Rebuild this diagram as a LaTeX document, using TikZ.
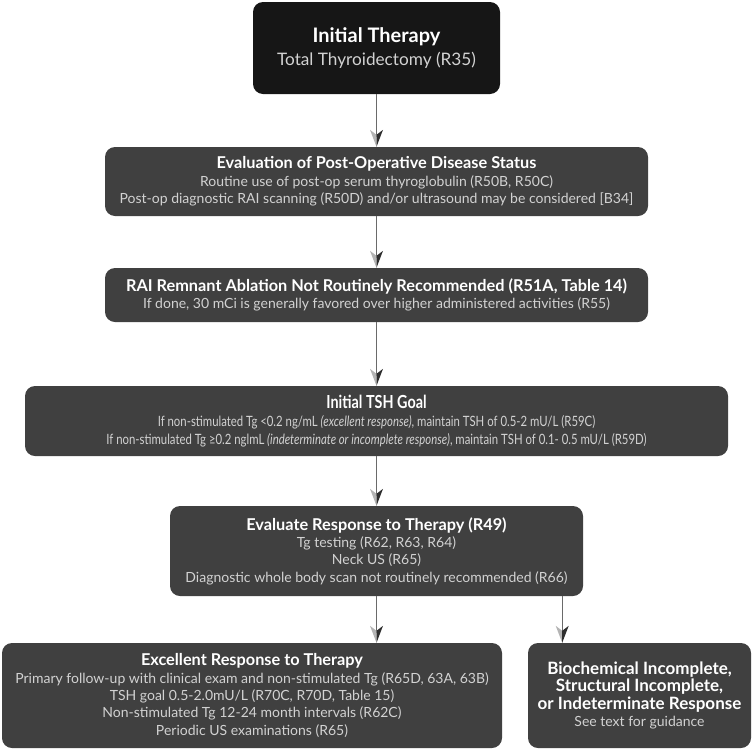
\documentclass[tikz,border=0pt]{standalone}
\usepackage{fontspec}
\setmainfont{Lato}
\newfontfamily\condfont{Lato}[FakeStretch=0.80]
\usetikzlibrary{calc}
\definecolor{boxgray}{HTML}{404040}
\definecolor{boxblack}{HTML}{161616}
\definecolor{bodytxt}{HTML}{D2D2D2}
\definecolor{linegray}{HTML}{6A6A6A}
\definecolor{tiplight}{HTML}{B4B4B4}
\definecolor{tipdark}{HTML}{2E2E2E}
\newcommand\ttl[1]{{\color{white}\bfseries\fontsize{16.3}{18}\selectfont #1}}
\newcommand\ttlb[1]{{\color{white}\bfseries\fontsize{17}{19}\selectfont #1}}
\newcommand\arrowtip[1]{%
  \fill[tiplight] (#1) -- ++(-6.5,-17) -- ++(6.5,5) -- cycle;
  \fill[tipdark] (#1) -- ++(6.5,-17) -- ++(-6.5,5) -- cycle;}
\begin{document}
\begin{tikzpicture}[x=1pt,y=-1pt,
  box/.style={rounded corners=10pt, fill=boxgray, align=center, inner sep=0pt,
    text=bodytxt, font=\fontsize{14}{17.4}\selectfont},
  conn/.style={draw=linegray, line width=1.3pt}]
\useasboundingbox (0,0) rectangle (752,750);
\node[box, fill=boxblack, minimum width=247pt, minimum height=92pt,
  font=\fontsize{17.2}{23}\selectfont, text=bodytxt] (b1) at (376.5,48)
  {{\color{white}\bfseries\fontsize{20}{23}\selectfont Initial Therapy}\\Total Thyroidectomy (R35)};
\node[box, minimum width=543pt, minimum height=69pt] (b2) at (376.5,181.5)
  {\ttl{Evaluation of Post-Operative Disease Status}\\
   Routine use of post-op serum thyroglobulin (R50B, R50C)\\
   Post-op diagnostic RAI scanning (R50D) and/or ultrasound may be considered [B34]};
\node[box, minimum width=543pt, minimum height=54pt] (b3) at (376.5,295)
  {\ttl{RAI Remnant Ablation Not Routinely Recommended (R51A, Table 14)}\\
   If done, 30 mCi is generally favored over higher administered activities (R55)};
\node[box, minimum width=703pt, minimum height=70pt,
  font=\condfont\fontsize{14.2}{17.8}\selectfont] (b4) at (376.5,421)
  {{\color{white}\bfseries\fontsize{18}{18}\selectfont Initial TSH Goal}\\
   If non-stimulated Tg <0.2 ng/mL \textit{(excellent response)}, maintain TSH of 0.5-2 mU/L (R59C)\\
   If non-stimulated Tg ≥0.2 nglmL \textit{(indeterminate or incomplete response)}, maintain TSH of 0.1- 0.5 mU/L (R59D)};
\node[box, minimum width=413pt, minimum height=90pt] (b5) at (376.5,551)
  {\ttl{Evaluate Response to Therapy (R49)}\\
   Tg testing (R62, R63, R64)\\
   Neck US (R65)\\
   Diagnostic whole body scan not routinely recommended (R66)};
\node[box, minimum width=500pt, minimum height=105pt] (b6) at (252,695.5)
  {\ttl{Excellent Response to Therapy}\\
   Primary follow-up with clinical exam and non-stimulated Tg (R65D, 63A, 63B)\\
   TSH goal 0.5-2.0mU/L (R70C, R70D, Table 15)\\
   Non-stimulated Tg 12-24 month intervals (R62C)\\
   Periodic US examinations (R65)};
\node[box, minimum width=223pt, minimum height=105pt] (b7) at (639.5,695.5)
  {\ttlb{Biochemical Incomplete,}\\\ttlb{Structural Incomplete,}\\\ttlb{or Indeterminate Response}\\
   See text for guidance};
\coordinate (s6) at (b5.south);
\coordinate (e6) at (s6 |- b6.north);
\coordinate (s7) at ($(b5.south east)+(-21,0)$);
\coordinate (e7) at (s7 |- b7.north);
\draw[conn] (b1.south) -- ($(b2.north)+(0,-10)$);
\draw[conn] (b2.south) -- ($(b3.north)+(0,-10)$);
\draw[conn] (b3.south) -- ($(b4.north)+(0,-10)$);
\draw[conn] (b4.south) -- ($(b5.north)+(0,-10)$);
\draw[conn] (s6) -- ($(e6)+(0,-10)$);
\draw[conn] (s7) -- ($(e7)+(0,-10)$);
\arrowtip{b2.north}
\arrowtip{b3.north}
\arrowtip{b4.north}
\arrowtip{b5.north}
\arrowtip{e6}
\arrowtip{e7}
\end{tikzpicture}
\end{document}
